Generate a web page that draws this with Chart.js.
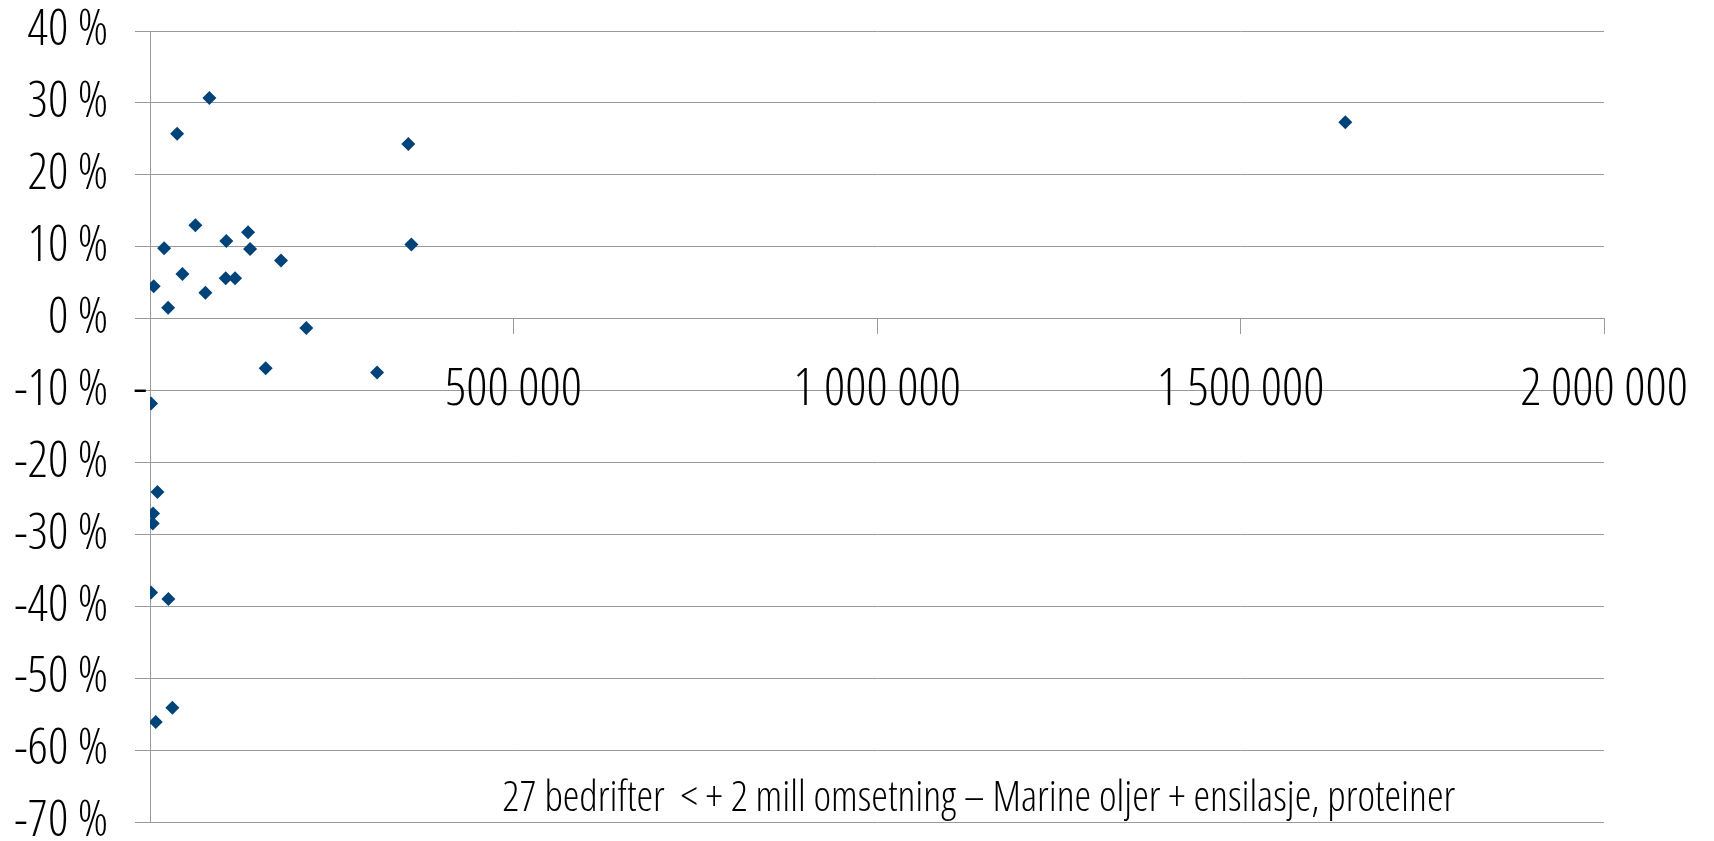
<!DOCTYPE html>
<html>
<head>
<meta charset="utf-8">
<script src="https://cdn.jsdelivr.net/npm/chart.js@4/dist/chart.umd.min.js"></script>
<style>
  html, body { margin: 0; padding: 0; background: #fff; }
  #wrap { width: 1714px; height: 841px; position: relative; }
</style>
</head>
<body>
<div id="wrap"><canvas id="chart"></canvas></div>
<script>
// omsetning (x) og endring i % (y), lest av figuren
const omsetning = [81700, 37300, 355300, 62400, 134900, 105000, 19400, 137600, 359500, 180200,
                   44600, 104100, 117000, 5100, 76200, 24900, 215000, 159100, 312300, 1644200,
                   1500, 10200, 4200, 3800, 1500, 25300, 30800, 7900];
const endring = [30.7, 25.7, 24.3, 13.0, 12.0, 10.8, 9.8, 9.7, 10.3, 8.1,
                 6.2, 5.6, 5.6, 4.5, 3.6, 1.5, -1.3, -6.9, -7.5, 27.3,
                 -11.8, -24.1, -27.1, -28.5, -38.1, -39.0, -54.1, -56.1];

const xTicks = [0, 500000, 1000000, 1500000, 2000000];
const yTicks = [-70, -60, -50, -40, -30, -20, -10, 0, 10, 20, 30, 40];

const caption = '27 bedrifter  < + 2 mill omsetning – Marine oljer + ensilasje, proteiner';
const captionAt = { x: 1140000, y: -66.8 };

// smal og lett skrift (Open Sans, smal bredde)
const fontFamily = "'Open Sans', sans-serif";
const fontWeight = '300 condensed';
const gridColor = '#9a9a9a';

function tusen(v) {
    if (v === 0) return '-  ';
    return String(v).replace(/\B(?=(\d{3})+(?!\d))/g, ' ');
}

// tekst nederst i plottet
const captionPlugin = {
    id: 'caption',
    afterDraw(chart) {
        const ctx = chart.ctx;
        ctx.save();
        ctx.font = fontWeight + ' 42px ' + fontFamily;
        ctx.fillStyle = '#000';
        ctx.textAlign = 'center';
        ctx.textBaseline = 'middle';
        ctx.fillText(caption, chart.scales.x.getPixelForValue(captionAt.x), chart.scales.y.getPixelForValue(captionAt.y));
        ctx.restore();
    }
};

const points = omsetning.map((x, i) => ({ x: x, y: endring[i] }));

new Chart(document.getElementById('chart'), {
    type: 'scatter',
    data: {
        datasets: [{
            data: points,
            pointStyle: 'rectRot',
            pointRadius: 7,
            backgroundColor: '#004379',
            borderWidth: 0
        }]
    },
    options: {
        responsive: true,
        maintainAspectRatio: false,
        animation: false,
        events: [],
        layout: { padding: { left: 0, right: 110, top: 31, bottom: 19 } },
        plugins: { legend: { display: false }, tooltip: { enabled: false } },
        scales: {
            x: {
                type: 'linear',
                min: 0,
                max: 2000000,
                position: { y: 0 },
                afterBuildTicks(s) { s.ticks = xTicks.map(v => ({ value: v })); },
                afterFit(s) { s.paddingLeft = 0; s.paddingRight = 0; },
                ticks: {
                    callback: v => tusen(v),
                    padding: 25,
                    color: '#000',
                    maxRotation: 0,
                    autoSkip: false,
                    font: { family: fontFamily, weight: fontWeight, size: 52 }
                },
                grid: { drawOnChartArea: false, tickLength: 15, color: gridColor },
                border: { color: gridColor }
            },
            y: {
                min: -70,
                max: 40,
                afterBuildTicks(s) { s.ticks = yTicks.map(v => ({ value: v })); },
                afterFit(s) { s.width = 150; s.paddingTop = 0; s.paddingBottom = 0; },
                ticks: {
                    callback: v => v + ' %',
                    padding: 27,
                    color: '#000',
                    font: { family: fontFamily, weight: fontWeight, size: 50 }
                },
                grid: { color: gridColor, tickLength: 15 },
                border: { color: gridColor }
            }
        }
    },
    plugins: [captionPlugin]
});
</script>
</body>
</html>
